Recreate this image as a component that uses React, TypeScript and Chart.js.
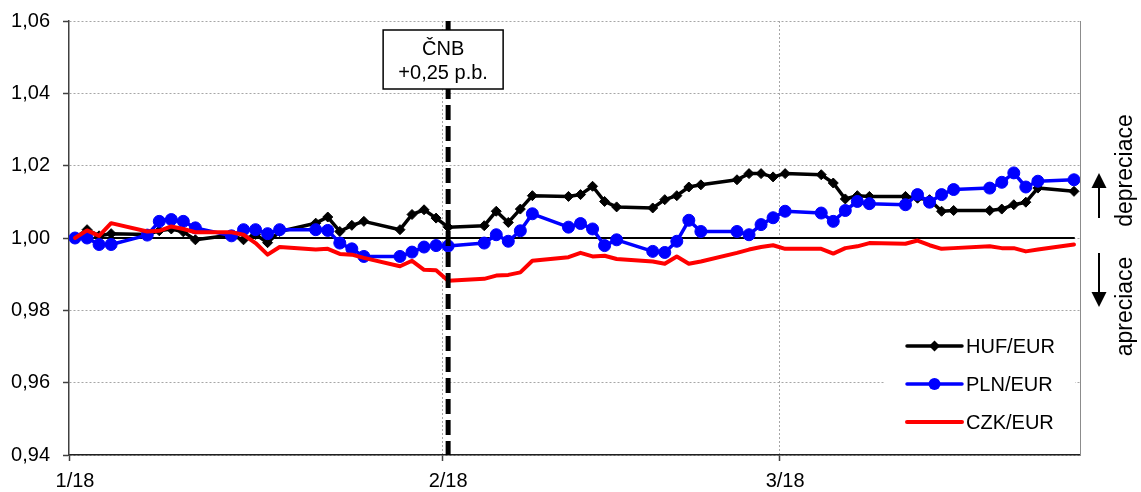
import React, { useEffect, useRef } from 'react';
import { Chart, registerables } from 'chart.js';

Chart.register(...registerables);

// ---------- DATA ----------
const dates = [
  '2018-01-02', '2018-01-03', '2018-01-04', '2018-01-05',
  '2018-01-08', '2018-01-09', '2018-01-10', '2018-01-11', '2018-01-12',
  '2018-01-15', '2018-01-16', '2018-01-17', '2018-01-18', '2018-01-19',
  '2018-01-22', '2018-01-23', '2018-01-24', '2018-01-25', '2018-01-26',
  '2018-01-29', '2018-01-30', '2018-01-31', '2018-02-01', '2018-02-02',
  '2018-02-05', '2018-02-06', '2018-02-07', '2018-02-08', '2018-02-09',
  '2018-02-12', '2018-02-13', '2018-02-14', '2018-02-15', '2018-02-16',
  '2018-02-19', '2018-02-20', '2018-02-21', '2018-02-22', '2018-02-23',
  '2018-02-26', '2018-02-27', '2018-02-28', '2018-03-01', '2018-03-02',
  '2018-03-05', '2018-03-06', '2018-03-07', '2018-03-08', '2018-03-09',
  '2018-03-12', '2018-03-13', '2018-03-14', '2018-03-15', '2018-03-16',
  '2018-03-19', '2018-03-20', '2018-03-21', '2018-03-22', '2018-03-23',
  '2018-03-26',
];

const hufEur = [
  1.0000, 1.0023, 1.0006, 1.0012,
  1.0010, 1.0020, 1.0025, 1.0017, 0.9995,
  1.0008, 0.9995, 1.0010, 0.9987, 1.0018,
  1.0041, 1.0058, 1.0018, 1.0035, 1.0046,
  1.0023, 1.0065, 1.0078, 1.0055, 1.0030,
  1.0034, 1.0074, 1.0043, 1.0080, 1.0117,
  1.0115, 1.0120, 1.0143, 1.0101, 1.0086,
  1.0083, 1.0106, 1.0117, 1.0141, 1.0147,
  1.0161, 1.0178, 1.0178, 1.0169, 1.0178,
  1.0175, 1.0152, 1.0108, 1.0117, 1.0115,
  1.0115, 1.0110, 1.0106, 1.0074, 1.0076,
  1.0076, 1.0080, 1.0092, 1.0099, 1.0138,
  1.0129,
];

const plnEur = [
  1.0000, 1.0000, 0.9982, 0.9982,
  1.0008, 1.0046, 1.0051, 1.0046, 1.0028,
  1.0006, 1.0023, 1.0023, 1.0012, 1.0023,
  1.0023, 1.0021, 0.9986, 0.9970, 0.9949,
  0.9949, 0.9961, 0.9975, 0.9979, 0.9978,
  0.9986, 1.0009, 0.9991, 1.0020, 1.0067,
  1.0030, 1.0040, 1.0025, 0.9979, 0.9995,
  0.9963, 0.9960, 0.9991, 1.0049, 1.0018,
  1.0018, 1.0009, 1.0037, 1.0056, 1.0074,
  1.0069, 1.0046, 1.0076, 1.0101, 1.0095,
  1.0092, 1.0120, 1.0099, 1.0120, 1.0134,
  1.0138, 1.0154, 1.0180, 1.0141, 1.0157,
  1.0161,
];

const czkEur = [
  1.0000, 1.0021, 1.0006, 1.0041,
  1.0018, 1.0020, 1.0032, 1.0025, 1.0016,
  1.0016, 1.0009, 0.9986, 0.9954, 0.9975,
  0.9968, 0.9970, 0.9956, 0.9954, 0.9945,
  0.9922, 0.9937, 0.9912, 0.9911, 0.9882,
  0.9887, 0.9896, 0.9898, 0.9905, 0.9937,
  0.9947, 0.9959, 0.9949, 0.9951, 0.9942,
  0.9935, 0.9929, 0.9949, 0.9929, 0.9935,
  0.9959, 0.9968, 0.9975, 0.9980, 0.9970,
  0.9970, 0.9957, 0.9972, 0.9977, 0.9986,
  0.9984, 0.9993, 0.9980, 0.9970, 0.9972,
  0.9977, 0.9972, 0.9972, 0.9963, 0.9968,
  0.9982,
];

const seriesLabels = ['HUF/EUR', 'PLN/EUR', 'CZK/EUR'];
const tickDates = ['2018-01-02', '2018-02-02', '2018-03-02'];
const tickLabels = ['1/18', '2/18', '3/18'];
const axisStart = '2018-01-02';
const axisEnd = '2018-03-27';
const yTicks = [0.94, 0.96, 0.98, 1.0, 1.02, 1.04, 1.06];
const baseline = 1.0;
const eventDate = '2018-02-02';
const eventLabel = ['ČNB', '+0,25 p.b.'];
const sideLabels = ['depreciace', 'apreciace'];

// ---------- HELPERS ----------
const FONT = '"Liberation Sans", Arial, Helvetica, sans-serif';
const dayMs = 86400000;
const parse = (s: string) => Date.UTC(+s.slice(0, 4), +s.slice(5, 7) - 1, +s.slice(8, 10));
const dayOf = (s: string) => (parse(s) - parse(axisStart)) / dayMs;
// Points sit in the middle of their day (Excel date-axis convention)
const mid = (s: string) => dayOf(s) + 0.5;
const pts = (vals: number[]) => dates.map((d, i) => ({ x: mid(d), y: vals[i] }));

const annotations = {
  id: 'annotations',
  afterDatasetsDraw(chart: any) {
    const { ctx, chartArea, scales } = chart;
    const { right, top, bottom } = chartArea;
    const xs = scales.x;
    const ys = scales.y;
    ctx.save();

    // right border of plot area
    ctx.strokeStyle = '#8c8c8c';
    ctx.lineWidth = 1;
    ctx.beginPath();
    ctx.moveTo(Math.round(right) + 0.5, top);
    ctx.lineTo(Math.round(right) + 0.5, bottom);
    ctx.stroke();

    // event line
    const ex = xs.getPixelForValue(mid(eventDate));
    ctx.strokeStyle = '#000';
    ctx.lineWidth = 5;
    ctx.setLineDash([15, 6]);
    ctx.beginPath();
    ctx.moveTo(ex, top);
    ctx.lineTo(ex, bottom);
    ctx.stroke();
    ctx.setLineDash([]);

    // event box
    const bw = 120, bh = 59;
    const bx = ex - 5 - bw / 2, by = top + 9;
    ctx.fillStyle = '#fff';
    ctx.fillRect(bx, by, bw, bh);
    ctx.lineWidth = 1.5;
    ctx.strokeStyle = '#000';
    ctx.strokeRect(bx, by, bw, bh);
    ctx.fillStyle = '#000';
    ctx.font = `20px ${FONT}`;
    ctx.textAlign = 'center';
    ctx.textBaseline = 'middle';
    ctx.fillText(eventLabel[0], bx + bw / 2, by + 19);
    ctx.fillText(eventLabel[1], bx + bw / 2, by + 43);

    // legend
    const lw = 190, lh = 126;
    const lx = right - 5 - lw, ly = bottom - 5 - lh;
    ctx.fillStyle = '#fff';
    ctx.fillRect(lx, ly, lw, lh);
    const items = chart.data.datasets.slice(0, 3);
    items.forEach((ds: any, i: number) => {
      const cy = ly + 22 + i * 38;
      const x1 = lx + 22, x2 = lx + 77, cx = (x1 + x2) / 2;
      ctx.strokeStyle = ds.borderColor;
      ctx.lineWidth = ds.borderWidth;
      ctx.lineCap = 'round';
      ctx.beginPath();
      ctx.moveTo(x1, cy);
      ctx.lineTo(x2, cy);
      ctx.stroke();
      ctx.fillStyle = ds.borderColor;
      if (ds.pointStyle === 'rectRot' && ds.pointRadius > 0) {
        const r = ds.pointRadius + 0.5;
        ctx.beginPath();
        ctx.moveTo(cx - r, cy);
        ctx.lineTo(cx, cy - r);
        ctx.lineTo(cx + r, cy);
        ctx.lineTo(cx, cy + r);
        ctx.closePath();
        ctx.fill();
      } else if (ds.pointStyle === 'circle' && ds.pointRadius > 0) {
        ctx.beginPath();
        ctx.arc(cx, cy, ds.pointRadius, 0, Math.PI * 2);
        ctx.fill();
      }
      ctx.fillStyle = '#000';
      ctx.font = `20px ${FONT}`;
      ctx.textAlign = 'left';
      ctx.textBaseline = 'middle';
      ctx.fillText(ds.label, x2 + 4, cy + 1);
    });

    // side arrows and labels
    const zy = ys.getPixelForValue(baseline);
    const ax = right + 19;
    ctx.strokeStyle = '#000';
    ctx.fillStyle = '#000';
    ctx.lineWidth = 2;
    ctx.lineCap = 'butt';
    // up arrow
    ctx.beginPath();
    ctx.moveTo(ax, zy - 20);
    ctx.lineTo(ax, zy - 55);
    ctx.stroke();
    ctx.beginPath();
    ctx.moveTo(ax, zy - 65);
    ctx.lineTo(ax - 7.5, zy - 50);
    ctx.lineTo(ax + 7.5, zy - 50);
    ctx.closePath();
    ctx.fill();
    // down arrow
    ctx.beginPath();
    ctx.moveTo(ax, zy + 15);
    ctx.lineTo(ax, zy + 60);
    ctx.stroke();
    ctx.beginPath();
    ctx.moveTo(ax, zy + 69);
    ctx.lineTo(ax - 7.5, zy + 54);
    ctx.lineTo(ax + 7.5, zy + 54);
    ctx.closePath();
    ctx.fill();

    ctx.font = `23px ${FONT}`;
    ctx.textAlign = 'center';
    ctx.textBaseline = 'middle';
    const tx = right + 46;
    ctx.save();
    ctx.translate(tx, zy - 67.5);
    ctx.rotate(-Math.PI / 2);
    ctx.fillText(sideLabels[0], 0, 0);
    ctx.restore();
    ctx.save();
    ctx.translate(tx, zy + 68.5);
    ctx.rotate(-Math.PI / 2);
    ctx.fillText(sideLabels[1], 0, 0);
    ctx.restore();

    ctx.restore();
  },
};

export default function App() {
  const ref = useRef<HTMLCanvasElement>(null);

  useEffect(() => {
    document.body.style.margin = '0';
    const canvas = ref.current;
    if (!canvas) return;
    const chart = new Chart(canvas, {
      type: 'line',
      data: {
        datasets: [
          {
            label: seriesLabels[0],
            data: pts(hufEur),
            borderColor: '#000000',
            backgroundColor: '#000000',
            borderWidth: 3.5,
            pointStyle: 'rectRot',
            pointRadius: 5,
            pointBorderWidth: 1,
            pointBackgroundColor: '#000000',
            pointBorderColor: '#000000',
            order: 3,
          },
          {
            label: seriesLabels[1],
            data: pts(plnEur),
            borderColor: '#0000ff',
            backgroundColor: '#0000ff',
            borderWidth: 3.5,
            pointStyle: 'circle',
            pointRadius: 6,
            pointBorderWidth: 1,
            pointBackgroundColor: '#0000ff',
            pointBorderColor: '#0000ff',
            order: 2,
          },
          {
            label: seriesLabels[2],
            data: pts(czkEur),
            borderColor: '#ff0000',
            backgroundColor: '#ff0000',
            borderWidth: 4,
            pointRadius: 0,
            order: 1,
          },
          {
            label: '',
            data: [
              { x: mid(dates[0]), y: baseline },
              { x: mid(dates[dates.length - 1]), y: baseline },
            ],
            borderColor: '#000000',
            borderWidth: 2,
            pointRadius: 0,
            order: 4,
          },
        ],
      },
      options: {
        animation: false,
        responsive: false,
        maintainAspectRatio: false,
        events: [],
        layout: { padding: { left: 0, right: 61, top: 21, bottom: 0 } },
        elements: {
          line: { tension: 0, borderJoinStyle: 'round', borderCapStyle: 'round', fill: false },
        },
        plugins: { legend: { display: false }, tooltip: { enabled: false } },
        scales: {
          x: {
            type: 'linear',
            min: dayOf(axisStart),
            max: dayOf(axisEnd),
            afterBuildTicks: (s: any) => {
              s.ticks = tickDates.map((d) => ({ value: dayOf(d) }));
            },
            afterFit: (s: any) => {
              s.height = 37;
            },
            ticks: {
              autoSkip: false,
              maxRotation: 0,
              padding: 8,
              labelOffset: 6,
              color: '#000',
              font: { family: FONT, size: 20 },
              callback: (_v: any, i: number) => tickLabels[i],
            },
            grid: {
              color: (c: any) => (c.index === 0 ? 'rgba(0,0,0,0)' : '#a6a6a6'),
              lineWidth: 1,
              tickLength: 6,
              tickColor: '#404040',
              tickWidth: 1.5,
            },
            border: { color: '#202020', width: 1.5, dash: [2, 2] },
          },
          y: {
            min: yTicks[0],
            max: yTicks[yTicks.length - 1],
            afterBuildTicks: (s: any) => {
              s.ticks = yTicks.map((v) => ({ value: v }));
            },
            afterFit: (s: any) => {
              s.width = 69;
              s.paddingTop = 12;
              s.paddingBottom = 12;
            },
            ticks: {
              padding: 13,
              color: '#000',
              font: { family: FONT, size: 20 },
              callback: (v: any) => Number(v).toFixed(2).replace('.', ','),
            },
            grid: {
              color: '#a6a6a6',
              lineWidth: 1,
              tickLength: 6,
              tickColor: '#404040',
              tickWidth: 1.5,
            },
            border: { color: '#404040', width: 1.5, dash: [2, 2] },
          },
        },
      },
      plugins: [annotations],
    } as any);
    return () => chart.destroy();
  }, []);

  return (
    <div style={{ width: 1141, height: 492 }}>
      <canvas ref={ref} width={1141} height={492} style={{ display: 'block' }} />
    </div>
  );
}
